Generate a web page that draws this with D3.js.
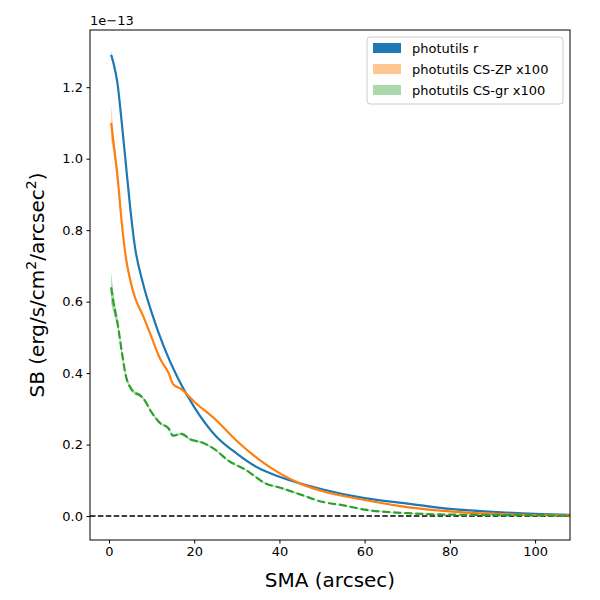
<!DOCTYPE html><html><head><meta charset="utf-8"><script src="https://cdn.jsdelivr.net/npm/d3@7"></script>
<style>body{margin:0;background:#fff}text{font-family:"DejaVu Sans",sans-serif}</style></head><body><svg id="c" width="600" height="600"></svg>
<script>
const blueX=[0.5,1,2,3,4,5,6,8,10,13,16,20,25,30,35,40,50,60,70,80,90,100,108.5];
const blueY=[1.29,1.27,1.21,1.10,0.98,0.86,0.76,0.65,0.57,0.47,0.39,0.305,0.225,0.175,0.135,0.11,0.075,0.05,0.035,0.02,0.012,0.006,0.003];
const blueE=[0.01,0.01,0.008,0.006,0.005,0.004,0.003,0.003,0.002,0.002,0.002,0.002,0.001,0.001,0.001,0.001,0.001,0.001,0.001,0.001,0.001,0.001,0.001];
const orX=[0.5,1,2,3,4,5,6,8,10,12,14,15,17,20,25,30,35,40,45,50,60,70,80,90,100,108.5];
const orY=[1.10,1.05,0.95,0.82,0.72,0.66,0.615,0.56,0.50,0.44,0.40,0.37,0.355,0.32,0.27,0.21,0.16,0.12,0.09,0.07,0.045,0.025,0.013,0.006,0.003,0.002];
const orE=[0.05,0.03,0.02,0.01,0.008,0.006,0.005,0.004,0.004,0.003,0.003,0.003,0.003,0.002,0.002,0.002,0.002,0.002,0.001,0.001,0.001,0.001,0.001,0.001,0.001,0.001];
const grX=[0.5,1,2,3,4,5,6,7,8,10,12,14,15,17,19,22,25,28,32,37,40,45,50,55,60,70,80,100,108.5];
const grY=[0.64,0.60,0.54,0.46,0.39,0.36,0.345,0.34,0.33,0.29,0.26,0.245,0.225,0.23,0.215,0.205,0.185,0.155,0.13,0.09,0.08,0.06,0.04,0.03,0.018,0.008,0.004,0.002,0.001];
const grE=[0.045,0.03,0.015,0.01,0.008,0.006,0.005,0.005,0.004,0.004,0.003,0.003,0.003,0.003,0.003,0.003,0.002,0.002,0.002,0.002,0.002,0.002,0.001,0.001,0.001,0.001,0.001,0.001,0.001];
const yTicks=[0,0.2,0.4,0.6,0.8,1.0,1.2];
const xTicks=[0,20,40,60,80,100];
const svg=d3.select("#c");
const L=90,R=570,T=30,B=540;
const x=d3.scaleLinear().domain([-4.46,108.2]).range([L,R]);
const y=d3.scaleLinear().domain([-0.067,1.36]).range([B,T]);
const defs=svg.append("defs");defs.append("clipPath").attr("id","cp").append("rect").attr("x",L).attr("y",T).attr("width",R-L).attr("height",B-T);
const g=svg.append("g").attr("clip-path","url(#cp)");
g.append("line").attr("x1",L).attr("x2",R).attr("y1",y(0)).attr("y2",y(0)).attr("stroke","#000").attr("stroke-width",1.5).attr("stroke-dasharray","5.5,2.4");
function series(X,Y,E,col,dash){
 const d=X.map((v,i)=>[v,Y[i],E[i]]);
 g.append("path").datum(d).attr("d",d3.area().x(p=>x(p[0])).y0(p=>y(p[1]-p[2])).y1(p=>y(p[1]+p[2])).curve(d3.curveMonotoneX)).attr("fill",col).attr("opacity",0.4);
 g.append("path").datum(d).attr("d",d3.line().x(p=>x(p[0])).y(p=>y(p[1])).curve(d3.curveMonotoneX)).attr("fill","none").attr("stroke",col).attr("stroke-width",2.2).attr("stroke-dasharray",dash||null);
}
series(blueX,blueY,blueE,"#1f77b4");
series(orX,orY,orE,"#ff7f0e");
series(grX,grY,grE,"#2ca02c","8,3");
svg.append("rect").attr("x",L).attr("y",T).attr("width",R-L).attr("height",B-T).attr("fill","none").attr("stroke","#000").attr("stroke-width",1);
const xa=svg.append("g").attr("transform",`translate(0,${B})`).call(d3.axisBottom(x).tickValues(xTicks).tickSize(3.5).tickPadding(3.5));
const ya=svg.append("g").attr("transform",`translate(${L},0)`).call(d3.axisLeft(y).tickValues(yTicks).tickFormat(d3.format(".1f")).tickSize(3.5).tickPadding(3.5));
[xa,ya].forEach(a=>{a.select(".domain").remove();a.selectAll("text").attr("font-size",13).attr("fill","#000");a.selectAll("line").attr("stroke","#000")});
svg.append("text").attr("x",L).attr("y",25).attr("font-size",13).text("1e−13");
svg.append("text").attr("x",(L+R)/2).attr("y",587).attr("text-anchor","middle").attr("font-size",20).text("SMA (arcsec)");
const yl=svg.append("text").attr("transform",`translate(44,${(T+B)/2}) rotate(-90)`).attr("text-anchor","middle").attr("font-size",20);
yl.append("tspan").text("SB (erg/s/cm");yl.append("tspan").attr("dy",-8).attr("font-size",14).text("2");
yl.append("tspan").attr("dy",8).text("/arcsec");yl.append("tspan").attr("dy",-8).attr("font-size",14).text("2");yl.append("tspan").attr("dy",8).text(")");
const leg=[["photutils r","#1f77b4",1],["photutils CS-ZP x100","#ff7f0e",0.45],["photutils CS-gr x100","#2ca02c",0.4]];
svg.append("rect").attr("x",367).attr("y",37).attr("width",196).attr("height",67).attr("fill","#fff").attr("stroke","#ccc").attr("rx",3);
leg.forEach((l,i)=>{svg.append("rect").attr("x",373).attr("y",43+i*21).attr("width",28).attr("height",10).attr("fill",l[1]).attr("opacity",l[2]);
svg.append("text").attr("x",412).attr("y",53+i*21).attr("font-size",13).text(l[0]);});
</script></body></html>
